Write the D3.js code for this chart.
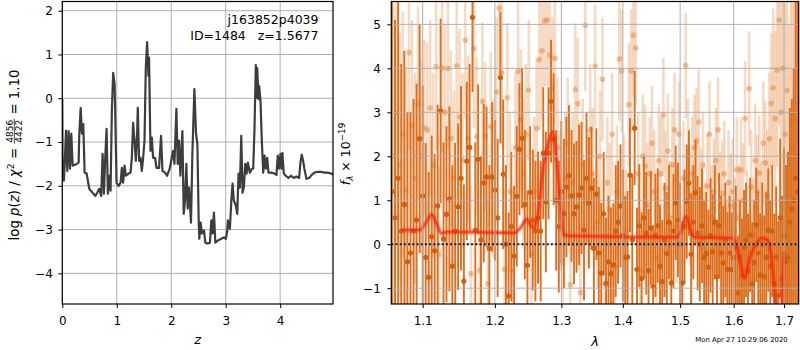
<!DOCTYPE html>
<html><head><meta charset="utf-8">
<script src="https://cdn.jsdelivr.net/npm/d3@7"></script>
<style>
body{margin:0;background:#fff}
svg{display:block}
text{font-family:"DejaVu Sans",sans-serif;fill:#000}
</style>
</head><body>
<svg id="fig" width="800" height="350"></svg>
<script>
// ---- redshift probability curve ----
const zGrid=[0.000,0.007,0.018,0.030,0.044,0.068,0.092,0.117,0.141,0.165,0.190,0.264,0.300,0.311,0.337,0.361,0.385,0.410,0.447,0.495,0.557,0.604,0.641,0.678,0.714,0.740,0.764,0.788,0.813,0.837,0.861,0.886,0.910,0.934,0.960,0.971,0.996,1.033,1.070,1.093,1.117,1.143,1.167,1.216,1.253,1.277,1.300,1.326,1.350,1.374,1.386,1.410,1.436,1.460,1.484,1.509,1.533,1.557,1.582,1.593,1.619,1.643,1.667,1.703,1.729,1.777,1.813,1.839,1.886,1.923,1.972,2.033,2.059,2.095,2.119,2.143,2.168,2.205,2.229,2.253,2.278,2.302,2.326,2.363,2.388,2.425,2.454,2.480,2.504,2.516,2.540,2.564,2.601,2.626,2.674,2.711,2.736,2.760,2.784,2.810,2.857,2.919,2.967,3.004,3.029,3.040,3.077,3.103,3.126,3.150,3.187,3.212,3.236,3.260,3.286,3.310,3.333,3.359,3.383,3.407,3.443,3.480,3.505,3.529,3.553,3.566,3.579,3.603,3.615,3.639,3.663,3.689,3.713,3.736,3.762,3.786,3.835,3.896,3.932,3.956,3.982,4.005,4.029,4.042,4.066,4.103,4.152,4.201,4.249,4.298,4.348,4.372,4.396,4.421,4.445,4.482,4.531,4.579,4.628,4.689,4.751,4.811,4.872,4.934,4.982];
const logPz=[-0.02,-1.88,-1.43,-1.88,-1.50,-0.74,-1.66,-0.75,-1.61,-0.81,-1.54,-1.50,-1.47,-0.86,-0.22,-0.81,-0.59,-1.70,-1.72,-2.07,-2.16,-2.23,-2.16,-2.07,-2.23,-1.27,-2.18,-1.36,-0.70,-2.18,-1.77,-2.11,-0.29,0.58,0.33,-0.29,-1.93,-2.00,-1.93,-1.59,-1.93,-1.54,-1.77,-1.72,-1.70,-1.36,-0.56,-0.97,-1.43,-0.81,-0.22,-1.43,-1.36,-1.66,-1.36,-0.97,0.69,1.28,0.51,0.92,-1.20,-0.90,-1.36,-1.36,-1.59,-1.59,-0.86,-1.66,-1.70,-1.77,-1.61,-1.20,-1.50,-0.24,-1.50,-0.97,-1.77,-0.75,-2.64,-2.34,-1.50,-2.52,-2.04,-2.84,-1.27,0.21,-0.79,-1.04,-2.79,-3.21,-2.84,-3.09,-3.02,-3.30,-3.32,-3.30,-2.79,-3.09,-2.61,-3.30,-3.25,-3.21,-3.18,-3.21,-3.02,-2.79,-2.98,-2.34,-1.95,-2.34,-2.45,-2.64,-1.72,-2.04,-0.86,-2.16,-2.04,-1.50,-1.72,-1.47,-1.70,-1.61,-1.61,-0.68,0.76,0.01,0.69,-0.02,0.28,-0.06,-0.97,-1.70,-1.31,-1.61,-1.36,-1.70,-1.70,-1.72,-1.75,-1.31,-1.61,-1.27,-1.61,-1.25,-1.72,-1.77,-1.82,-1.77,-1.82,-1.79,-1.82,-1.47,-1.29,-1.43,-1.61,-1.84,-1.82,-1.75,-1.70,-1.68,-1.68,-1.70,-1.70,-1.72,-1.75];

// ---- 2D spectrum, primary extraction ----
const lamDark=[1.060,1.064,1.068,1.072,1.076,1.080,1.084,1.088,1.092,1.096,
1.100,1.104,1.108,1.112,1.116,1.120,1.124,1.128,1.132,1.136,
1.140,1.144,1.148,1.152,1.156,1.160,1.164,1.168,1.172,1.176,
1.180,1.184,1.188,1.192,1.196,1.200,1.204,1.208,1.212,1.216,
1.220,1.224,1.228,1.232,1.236,1.240,1.244,1.248,1.252,1.256,
1.260,1.264,1.268,1.272,1.276,1.280,1.284,1.288,1.292,1.296,
1.300,1.304,1.308,1.312,1.316,1.320,1.324,1.328,1.332,1.336,
1.340,1.344,1.348,1.352,1.356,1.360,1.364,1.368,1.372,1.376,
1.380,1.384,1.388,1.392,1.396,1.400,1.404,1.408,1.412,1.416,
1.420,1.424,1.428,1.432,1.436,1.440,1.444,1.448,1.452,1.456,
1.460,1.464,1.468,1.472,1.476,1.480,1.484,1.488,1.492,1.496,
1.500,1.504,1.508,1.512,1.516,1.520,1.524,1.528,1.532,1.536,
1.540,1.544,1.548,1.552,1.556,1.560,1.564,1.568,1.572,1.576,
1.580,1.584,1.588,1.592,1.596,1.600,1.604,1.608,1.612,1.616,
1.620,1.624,1.628,1.632,1.636,1.640,1.644,1.648,1.652,1.656,
1.660,1.664,1.668,1.672,1.676,1.680,1.684,1.688,1.692,1.696,
1.700,1.704,1.708,1.712,1.716,1.720,1.724,1.728];
const fluxDark=[1.2,0.6,1.5,0.3,0.9, -0.4,-0.2,0.3,0.55,2.4, 1.1,-0.3,-0.75,0.17,-0.15, 0.87,3.03,0.12,0.68,1.03,
-0.5,0.3,0.85,1.5,-0.84, 1.89,2.2,5.16,0.32,1.93, 0.1,1.39,1.53,-0.1,1.53, 1.23,0.6,3.79,1.59,0.0,
-1.18,0.4,-0.27,1.09,2.16, 2.41,0.9,-0.48,1.18,0.55, 0.3,0.6,0.3,2.07,0.96, 2.07,3.25,2.39,1.0,0.4,
1.2,0.7,1.3,1.56,1.1, 0.69,0.85,1.12,1.28,0.32, 1.5,0.94,1.27,-0.09,1.14, -0.2,-0.66,0.69,-0.89,-0.4,
-0.67,-0.47,0.3,0.5,0.87, 0.2,-0.3,-0.29,1.57,0.1, 2.64,-0.57,0.42,-0.78,0.6, 0.25,-0.6,0.37,-0.97,0.2,
0.42,-0.5,-0.85,0.1,-0.21, 0.5,-0.88,0.3,0.94,0.55, 0.0,-0.88,0.4,0.97,1.39, -0.23,0.5,1.17,0.25,0.0,
0.42,-0.3,-0.21,-0.52,0.2, -0.17,0.5,-0.74,0.42,-0.2, -0.43,0.1,-0.57,-0.2,-0.58, -0.3,-0.07,-1.11,-0.3,-0.72,
-0.07,0.1,-0.6,0.21,-0.9, -0.42,0.44,-0.2,-0.7,0.0, -0.74,-0.3,0.32,-0.5,0.3, -0.9,-0.29,-1.17,0.6,-0.8,
0.2,-0.4,-0.3,0.5,0.8, 1.0,1.5,1.2];
const errDark=[4.8,4.5,4.2,3.8,3.5, 3.4,3.2,3.0,3.1,2.6, 2.5,2.6,2.4,2.3,2.2, 2.3,2.1,2.2,2.0,2.1,
2.3,2.0,1.9,2.1,2.2, 1.8,1.9,1.7,2.0,1.7, 1.9,1.8,1.6,1.9,1.7, 1.6,1.8,1.5,1.7,1.8,
1.9,1.7,1.6,1.6,1.5, 1.6,1.7,1.7,1.5,1.6, 1.6,1.5,1.6,1.5,1.6, 1.5,1.4,1.5,1.6,1.5,
1.6,1.7,1.6,1.6,1.5, 1.6,1.5,1.6,1.5,1.6, 1.5,1.5,1.4,1.6,1.5, 1.5,1.6,1.4,1.5,1.5,
1.5,1.4,1.5,1.4,1.4, 1.5,1.4,1.5,1.3,1.5, 1.3,1.4,1.4,1.5,1.4, 1.4,1.4,1.3,1.4,1.4,
1.3,1.4,1.4,1.3,1.4, 1.3,1.4,1.3,1.3,1.3, 1.4,1.4,1.3,1.3,1.2, 1.4,1.3,1.2,1.3,1.3,
1.3,1.3,1.4,1.3,1.3, 1.3,1.3,1.3,1.2,1.3, 1.3,1.3,1.3,1.3,1.3, 1.3,1.4,1.3,1.3,1.3,
1.3,1.3,1.3,1.3,1.4, 1.4,1.3,1.4,1.4,1.4, 1.4,1.5,1.4,1.5,1.5, 1.6,1.6,1.7,1.8,1.9,
2.0,2.2,2.4,2.6,2.5, 3.0,4.5,5.0];

// ---- 2D spectrum, second extraction (drawn faint) ----
const lamLight=[1.062,1.066,1.070,1.074,1.078,1.082,1.086,1.090,1.094,1.098,
1.102,1.106,1.110,1.114,1.118,1.122,1.126,1.130,1.134,1.138,
1.142,1.146,1.150,1.154,1.158,1.162,1.166,1.170,1.174,1.178,
1.182,1.186,1.190,1.194,1.198,1.202,1.206,1.210,1.214,1.218,
1.222,1.226,1.230,1.234,1.238,1.242,1.246,1.250,1.254,1.258,
1.262,1.266,1.270,1.274,1.278,1.282,1.286,1.290,1.294,1.298,
1.302,1.306,1.310,1.314,1.318,1.322,1.326,1.330,1.334,1.338,
1.342,1.346,1.350,1.354,1.358,1.362,1.366,1.370,1.374,1.378,
1.382,1.386,1.390,1.394,1.398,1.402,1.406,1.410,1.414,1.418,
1.422,1.426,1.430,1.434,1.438,1.442,1.446,1.450,1.454,1.458,
1.462,1.466,1.470,1.474,1.478,1.482,1.486,1.490,1.494,1.498,
1.502,1.506,1.510,1.514,1.518,1.522,1.526,1.530,1.534,1.538,
1.542,1.546,1.550,1.554,1.558,1.562,1.566,1.570,1.574,1.578,
1.582,1.586,1.590,1.594,1.598,1.602,1.606,1.610,1.614,1.618,
1.622,1.626,1.630,1.634,1.638,1.642,1.646,1.650,1.654,1.658,
1.662,1.666,1.670,1.674,1.678,1.682,1.686,1.690,1.694,1.698,
1.702,1.706,1.710,1.714,1.718,1.722,1.726];
const fluxLight=[2.0,3.0,1.8,2.5,1.23, 4.36,2.7,1.5,3.2,2.0, 2.65,2.6,3.1,1.8,4.04, -0.24,4.0,3.0,4.0,2.41,
1.5,4.06,2.9,1.9,4.64, 2.4,-0.67,4.45,2.45,-0.6, 3.25,2.45,-0.9,2.67,1.5, 3.46,5.37,3.9,-0.57,3.33,
1.2,-0.6,2.2,3.93,2.83, 1.6,2.5,3.5,-0.22,1.2, 2.63,4.2,4.4,5.08,5.1, 4.3,3.57,4.23,2.2,1.0,
-0.43,1.5,2.3,-0.92,1.4, 3.52,3.2,-1.1,1.8,4.98, 1.0,2.6,1.6,4.05,0.5, 2.0,3.75,-0.9,1.4,0.8,
2.5,-0.5,1.2,4.21,3.94, 1.0,0.3,3.17,3.94,4.75, 4.46,1.6,-0.6,2.0,1.78, 0.9,1.6,2.3,1.2,-0.3,
1.9,1.6,2.94,1.28,2.12, 0.6,1.8,2.6,0.4,2.5, -0.4,1.5,4.07,2.0,0.8, 1.6,2.2,2.35,2.78,1.0,
1.8,0.2,1.32,2.5,0.6, 1.2,1.9,2.6,0.9,1.16, 1.6,-0.2,1.4,0.87,1.2, 0.3,1.7,0.6,1.69,1.0,
2.86,0.4,3.54,1.3,0.2, 1.9,1.2,1.62,0.5,2.3, 1.85,1.1,2.4,3.2,3.56, 2.86,3.96,5.1,3.0,4.0,
2.5,3.5,2.0,3.0,2.2, 2.8,2.0];
const errLight=[3.5,3.0,3.0,2.8,2.8, 2.2,2.4,2.4,2.2,2.2, 2.0,2.0,2.0,2.1,1.9, 2.0,1.9,2.0,1.8,2.0,
2.0,1.8,2.0,2.0,1.8, 1.9,2.0,1.8,1.8,1.9, 1.8,1.7,1.9,1.7,1.8, 1.7,1.6,1.7,1.8,1.7,
1.8,1.8,1.7,1.7,1.6, 1.7,1.6,1.6,1.7,1.7, 1.6,1.6,1.6,1.5,1.5, 1.6,1.6,1.5,1.6,1.6,
1.6,1.5,1.5,1.6,1.6, 1.5,1.5,1.6,1.5,1.5, 1.5,1.5,1.5,1.4,1.5, 1.5,1.4,1.5,1.5,1.5,
1.4,1.5,1.5,1.4,1.4, 1.5,1.4,1.4,1.4,1.4, 1.3,1.4,1.4,1.4,1.4, 1.4,1.3,1.3,1.4,1.4,
1.3,1.3,1.3,1.3,1.3, 1.3,1.3,1.3,1.3,1.2, 1.3,1.3,1.2,1.3,1.3, 1.3,1.2,1.2,1.2,1.2,
1.2,1.2,1.2,1.2,1.2, 1.2,1.2,1.2,1.2,1.2, 1.2,1.2,1.2,1.2,1.2, 1.2,1.2,1.2,1.2,1.3,
1.3,1.3,1.3,1.3,1.3, 1.3,1.3,1.3,1.4,1.4, 1.4,1.5,1.5,1.6,1.8, 2.0,2.2,2.4,2.5,2.8,
3.0,3.0,3.0,3.5,3.5, 3.8,4.0];

// ---- best-fit template ----
const lamModel=[1.072,1.096,1.104,1.112,1.119,1.125,1.132,1.229,1.238,1.247,1.253,1.258,1.263,1.272,1.280,1.287,1.292,1.298,1.304,1.312,1.494,1.503,1.511,1.518,1.526,1.599,1.606,1.612,1.621,1.632,1.645,1.655,1.666,1.675,1.682,1.688,1.695,1.700];
const fluxModel=[0.32,0.32,0.48,0.67,0.45,0.25,0.28,0.26,0.38,0.57,0.42,0.37,0.60,1.76,2.30,2.56,2.00,1.00,0.21,0.19,0.16,0.35,0.63,0.35,0.16,0.14,-0.05,-0.36,-0.77,-0.28,0.02,0.14,0.10,-0.36,-1.27,-2.50,-1.50,-0.17];

// ---- ticks and labels ----
const zTicks=[0,1,2,3,4];
const pzTicks=[-4,-3,-2,-1,0,1,2];
const lamTicks=[1.1,1.2,1.3,1.4,1.5,1.6,1.7];
const fluxTicks=[-1,0,1,2,3,4,5];
const objName="j163852p4039";
const objId=1484, zBest="1.5677";
const chi2Num="4856", chi2Den="4422", chi2Ratio="1.10";
const stamp="Mon Apr 27 10:29:06 2020";

const svg=d3.select("#fig");
const TOP=1.5, BOT=304;
const gridColor="#b0b0b0";

// panel boxes
const L={x0:62.3,x1:333};
const R={x0:391.3,x1:798.7};

const xz=d3.scaleLinear().domain([0,4.97]).range([L.x0,L.x1]);
const ypz=d3.scaleLinear().domain([-4.7,2.21]).range([BOT,TOP]);
const xl=d3.scaleLog().domain([1.0592,1.7303]).range([R.x0,R.x1]);
const yf=d3.scaleLinear().domain([-1.36,5.52]).range([BOT,TOP]);

const defs=svg.append("defs");
defs.append("clipPath").attr("id","clipL").append("rect")
  .attr("x",L.x0).attr("y",TOP).attr("width",L.x1-L.x0).attr("height",BOT-TOP);
defs.append("clipPath").attr("id","clipR").append("rect")
  .attr("x",R.x0).attr("y",TOP).attr("width",R.x1-R.x0).attr("height",BOT-TOP);

function grid(g,xs,xt,ys,yt,x0,x1){
  g.selectAll("line.gx").data(xt).join("line").attr("class","gx")
    .attr("x1",d=>xs(d)).attr("x2",d=>xs(d)).attr("y1",TOP).attr("y2",BOT)
    .attr("stroke",gridColor).attr("stroke-width",1);
  g.selectAll("line.gy").data(yt).join("line").attr("class","gy")
    .attr("x1",x0).attr("x2",x1).attr("y1",d=>ys(d)).attr("y2",d=>ys(d))
    .attr("stroke",gridColor).attr("stroke-width",1);
}
const fmtTick=d=>d3.format("")(d).replace("-","\u2212");
function axes(xs,xt,xf,ys,yt,x0,x1,ypad){
  const gx=svg.append("g").attr("transform",`translate(0,${BOT})`)
    .call(d3.axisBottom(xs).tickValues(xt).tickFormat(xf).tickSize(4).tickPadding(8.5));
  const gy=svg.append("g").attr("transform",`translate(${x0},0)`)
    .call(d3.axisLeft(ys).tickValues(yt).tickFormat(fmtTick).tickSize(4).tickPadding(ypad));
  [gx,gy].forEach(g=>{
    g.select(".domain").remove();
    g.selectAll("text").attr("font-size",12).attr("font-family","DejaVu Sans").attr("fill","#000");
    g.selectAll("line").attr("stroke","#000").attr("stroke-width",1);
  });
  svg.append("rect").attr("x",x0).attr("y",TOP).attr("width",x1-x0).attr("height",BOT-TOP)
    .attr("fill","none").attr("stroke","#000").attr("stroke-width",1.2);
}

// ===== left panel: p(z) =====
grid(svg.append("g"),xz,zTicks,ypz,pzTicks,L.x0,L.x1);
const pz=zGrid.map((z,i)=>({z,v:logPz[i]}));
svg.append("path").datum(pz).attr("clip-path","url(#clipL)")
  .attr("fill","none").attr("stroke","#3d3d3d").attr("stroke-width",2.2).attr("stroke-linejoin","round")
  .attr("d",d3.line().x(d=>xz(d.z)).y(d=>ypz(d.v)));
axes(xz,zTicks,d=>String(d),ypz,pzTicks,L.x0,L.x1,5.5);

svg.append("text").attr("x",318.5).attr("y",24).attr("text-anchor","end").attr("font-size",12.5)
  .text(objName);
svg.append("text").attr("x",318.5).attr("y",39.5).attr("text-anchor","end").attr("font-size",12.5)
  .style("white-space","pre").text(`ID=${objId}   z=${zBest}`);

svg.append("text").attr("x",(L.x0+L.x1)/2).attr("y",344).attr("text-anchor","middle")
  .attr("font-size",13).attr("font-style","italic").text("z");

// left y label with stacked fraction
const yl=svg.append("g").attr("transform","translate(19,155) rotate(-90)");
const t1=yl.append("text").attr("font-size",13.3).style("white-space","pre");
t1.append("tspan").text("log ");
t1.append("tspan").attr("font-style","italic").text("p");
t1.append("tspan").text("(");
t1.append("tspan").attr("font-style","italic").text("z");
t1.append("tspan").text(") / ");
t1.append("tspan").attr("font-style","italic").text("\u03c7");
t1.append("tspan").attr("font-size",9.3).attr("dy",-5.3).text("2");
t1.append("tspan").attr("dy",5.3).text(" = ");
const w1=t1.node().getComputedTextLength();
const num=yl.append("text").attr("font-size",9).attr("text-anchor","middle").text(chi2Num);
const den=yl.append("text").attr("font-size",9).attr("text-anchor","middle").text(chi2Den);
const wf=Math.max(num.node().getComputedTextLength(),den.node().getComputedTextLength())+2;
const t2=yl.append("text").attr("font-size",13.3).style("white-space","pre").text(" = "+chi2Ratio);
const w2=t2.node().getComputedTextLength();
const s0=-(w1+wf+w2)/2;
t1.attr("x",s0);
num.attr("x",s0+w1+wf/2).attr("y",-6.5);
den.attr("x",s0+w1+wf/2).attr("y",2.7);
yl.append("line").attr("x1",s0+w1).attr("x2",s0+w1+wf).attr("y1",-4.7).attr("y2",-4.7)
  .attr("stroke","#000").attr("stroke-width",0.7);
t2.attr("x",s0+w1+wf);

// ===== right panel: spectrum =====
const dark=lamDark.map((l,i)=>({l,f:fluxDark[i],e:errDark[i]}));
const light=lamLight.map((l,i)=>({l,f:fluxLight[i],e:errLight[i]}));
const pr=svg.append("g").attr("clip-path","url(#clipR)");

pr.append("g").selectAll("line").data(light).join("line")
  .attr("x1",d=>xl(d.l)).attr("x2",d=>xl(d.l)).attr("y1",d=>yf(d.f-d.e)).attr("y2",d=>yf(d.f+d.e))
  .attr("stroke","#e27a28").attr("stroke-opacity",0.28).attr("stroke-width",2.6);
pr.append("g").selectAll("circle").data(light).join("circle")
  .attr("cx",d=>xl(d.l)).attr("cy",d=>yf(d.f)).attr("r",2.8)
  .attr("fill","#e27a28").attr("fill-opacity",0.45);

pr.append("g").selectAll("line").data(dark).join("line")
  .attr("x1",d=>xl(d.l)).attr("x2",d=>xl(d.l)).attr("y1",d=>yf(d.f-d.e)).attr("y2",d=>yf(d.f+d.e))
  .attr("stroke","#dc6f1e").attr("stroke-width",1.9);
pr.append("g").selectAll("circle").data(dark).join("circle")
  .attr("cx",d=>xl(d.l)).attr("cy",d=>yf(d.f)).attr("r",2.6)
  .attr("fill","#d3600c");

grid(svg.append("g"),xl,lamTicks,yf,fluxTicks,R.x0,R.x1);

const model=lamModel.map((l,i)=>({l,f:fluxModel[i]}));
const mline=d3.line().x(d=>xl(d.l)).y(d=>yf(d.f)).curve(d3.curveMonotoneX);
pr.append("path").datum(model).attr("fill","none").attr("stroke","#ff2a10")
  .attr("stroke-opacity",0.45).attr("stroke-width",4.5).attr("d",mline);
pr.append("path").datum(model).attr("fill","none").attr("stroke","#ff1a00")
  .attr("stroke-opacity",0.6).attr("stroke-width",1.8).attr("d",mline);

svg.append("line").attr("x1",R.x0).attr("x2",R.x1).attr("y1",yf(0)).attr("y2",yf(0))
  .attr("stroke","#1a1a1a").attr("stroke-width",2).attr("stroke-dasharray","2,2.2");

axes(xl,lamTicks,d3.format(".1f"),yf,fluxTicks,R.x0,R.x1,6.5);

svg.append("text").attr("x",(R.x0+R.x1)/2).attr("y",345.5).attr("text-anchor","middle")
  .attr("font-size",13).attr("font-style","italic").text("\u03bb");

const yr=svg.append("g").attr("transform","translate(349.5,154) rotate(-90)");
const tr=yr.append("text").attr("text-anchor","middle").attr("font-size",12.5).style("white-space","pre");
tr.append("tspan").attr("font-style","italic").text("f");
tr.append("tspan").attr("font-style","italic").attr("font-size",8.8).attr("dy",3).text("\u03bb");
tr.append("tspan").attr("dy",-3).text(" \u00d7 10");
tr.append("tspan").attr("font-size",8.8).attr("dy",-5).text("\u221219");

svg.append("text").attr("x",787.7).attr("y",342).attr("text-anchor","end").attr("font-size",6.9)
  .text(stamp);
</script>
</body></html>
